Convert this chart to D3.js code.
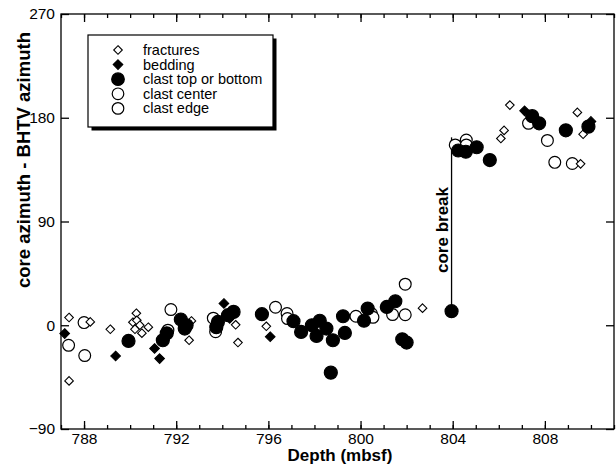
<!DOCTYPE html>
<html lang="en">
<head>
<meta charset="utf-8">
<title>core azimuth - BHTV azimuth</title>
<script src="https://cdn.jsdelivr.net/npm/d3@7"></script>
<style>
body { margin: 0; background: #fff; }
text { font-family: "Liberation Sans", Arial, Helvetica, sans-serif; fill: #000; }
.axis path { display: none; }
.axis line { stroke: #000; stroke-width: 1.3px; }
.axis text { font-size: 15.5px; }
.lbl { font-size: 17px; font-weight: bold; }
</style>
</head>
<body>
<script>
// depth (mbsf), core azimuth - BHTV azimuth (deg)
var fractures = [
  [787.35, 6.7], [788.27, 2.9], [787.35, -48.3], [789.14, -3.5],
  [790.27, 10.4], [790.12, 2.6], [790.29, 4.3], [790.42, 0], [790.21, -3.5],
  [790.51, -6.9], [790.79, -1.7], [792.66, 3.7], [792.56, -13],
  [794.58, 0.4], [794.68, -15], [795.91, -0.9], [802.69, 14.8],
  [806.23, 169], [806.09, 162], [806.48, 191], [809.55, 140],
  [809.41, 184.6], [809.66, 165.7]
];
var bedding = [
  [787.16, -7.2], [789.37, -26.7], [791.06, -20.2], [791.28, -28.9],
  [794.07, 18.9], [794.32, 6], [796.08, -10], [807.12, 186], [810.0, 176.8]
];
var clastTopBottom = [
  [789.93, -13.6], [791.42, -13], [791.59, -7], [792.2, 5], [792.37, -2.9],
  [792.45, 0], [793.81, 2.9], [793.74, -1.7], [794.25, 8.7], [794.49, 11.6],
  [795.72, 9.6], [797.09, 3.5], [797.42, -5.8], [797.89, 0], [798.23, 3.9],
  [798.52, -2.9], [798.09, -9.3], [798.8, -13], [798.71, -41.1],
  [799.24, 7.8], [799.32, -6.7], [800.31, 14.5], [800.15, 3.9],
  [801.14, 15.9], [801.51, 20.8], [801.81, -12.2], [802.0, -15],
  [803.95, 12.2], [804.24, 151.6], [804.57, 150.5], [805.04, 154.4],
  [805.61, 143.3], [807.45, 181.4], [807.75, 175.2], [808.91, 169.1],
  [809.89, 172.3]
];
var clastCenter = [
  [787.33, -17.4], [788.0, 2.3], [791.77, 13.6], [793.61, 6.1],
  [796.31, 15.6], [796.81, 10.2], [799.8, 7.8], [800.47, 10.2],
  [801.39, 9.3], [801.94, 35.6], [804.11, 156.4], [807.29, 175.2],
  [808.43, 141.3]
];
var clastEdge = [
  [788.03, -26.3], [791.64, -4.3], [793.71, -5.6], [796.83, 5.8],
  [800.54, 6.9], [801.94, 9.1], [804.59, 160.7], [804.59, 156.4],
  [808.11, 160.3], [809.19, 140.3]
];
var coreBreak = [[803.95, 12.2], [803.95, 163]];

var xMajor = [788, 792, 796, 800, 804, 808];
var xMinor = d3.range(787, 812);
var yTicks = [-90, 0, 90, 180, 270];
var legendNames = ["fractures", "bedding", "clast top or bottom", "clast center", "clast edge"];

var w = 616, h = 467;
var pL = 61, pR = 614, pT = 14, pB = 429;

var svg = d3.select("body").append("svg")
  .attr("width", w)
  .attr("height", h);

var x = d3.scaleLinear().domain([787, 811]).range([pL, pR]);
var y = d3.scaleLinear().domain([-90, 270]).range([pB, pT]);

// frame
svg.append("rect")
  .attr("x", pL).attr("y", pT)
  .attr("width", pR - pL).attr("height", pB - pT)
  .attr("fill", "none").attr("stroke", "#000").attr("stroke-width", 1.3);

// x axes, ticks inward
svg.append("g").attr("class", "axis")
  .attr("transform", "translate(0," + pB + ")")
  .call(d3.axisBottom(x).tickValues(xMinor).tickSize(-4).tickFormat(""));
svg.append("g").attr("class", "axis")
  .attr("transform", "translate(0," + pB + ")")
  .call(d3.axisBottom(x).tickValues(xMajor).tickSize(-8).tickPadding(4).tickFormat(d3.format("d")));
svg.append("g").attr("class", "axis")
  .attr("transform", "translate(0," + pT + ")")
  .call(d3.axisTop(x).tickValues(xMinor).tickSize(-4).tickFormat(""));
svg.append("g").attr("class", "axis")
  .attr("transform", "translate(0," + pT + ")")
  .call(d3.axisTop(x).tickValues(xMajor).tickSize(-8).tickFormat(""));

// y axes
svg.append("g").attr("class", "axis")
  .attr("transform", "translate(" + pL + ",0)")
  .call(d3.axisLeft(y).tickValues(yTicks).tickSize(-8).tickPadding(6).tickFormat(d3.format("d")));
svg.append("g").attr("class", "axis")
  .attr("transform", "translate(" + pR + ",0)")
  .call(d3.axisRight(y).tickValues(yTicks).tickSize(-8).tickFormat(""));

// axis titles
svg.append("text").attr("class", "lbl")
  .attr("x", 340).attr("y", 461)
  .attr("text-anchor", "middle")
  .text("Depth (mbsf)");
svg.append("text").attr("class", "lbl")
  .attr("transform", "translate(29.5,160) rotate(-90)")
  .attr("text-anchor", "middle")
  .style("font-size", "18.5px")
  .text("core azimuth - BHTV azimuth");

// core break
svg.append("path")
  .attr("d", d3.line().x(function(d){ return x(d[0]); }).y(function(d){ return y(d[1]); })(coreBreak))
  .attr("stroke", "#000").attr("stroke-width", 1.3).attr("fill", "none");
svg.append("text").attr("class", "lbl")
  .attr("transform", "translate(" + (x(coreBreak[0][0]) - 4) + ",230) rotate(-90)")
  .attr("text-anchor", "middle")
  .text("core break");

// markers
var diamond = function(r) { return "M0," + (-r) + "L" + r + ",0L0," + r + "L" + (-r) + ",0Z"; };

function drawSeries(data, kind) {
  var g = svg.append("g");
  if (kind == "od" || kind == "fd") {
    g.selectAll("path").data(data).enter().append("path")
      .attr("transform", function(d){ return "translate(" + x(d[0]) + "," + y(d[1]) + ")"; })
      .attr("d", kind == "od" ? diamond(4.3) : diamond(4.8))
      .attr("fill", kind == "od" ? "#fff" : "#000")
      .attr("stroke", "#000").attr("stroke-width", 1.1);
  } else {
    g.selectAll("circle").data(data).enter().append("circle")
      .attr("cx", function(d){ return x(d[0]); })
      .attr("cy", function(d){ return y(d[1]); })
      .attr("r", kind == "fc" ? 6.5 : 5.9)
      .attr("fill", kind == "fc" ? "#000" : "#fff")
      .attr("stroke", "#000").attr("stroke-width", 1.2);
  }
}
drawSeries(clastCenter, "oc");
drawSeries(clastEdge, "oc");
drawSeries(fractures, "od");
drawSeries(bedding, "fd");
drawSeries(clastTopBottom, "fc");

// legend
var lx = 88, ly = 35, lw = 185, lh = 92;
svg.append("rect").attr("x", lx + 3.5).attr("y", ly + 3.5).attr("width", lw).attr("height", lh).attr("fill", "#000");
svg.append("rect").attr("x", lx).attr("y", ly).attr("width", lw).attr("height", lh)
  .attr("fill", "#fff").attr("stroke", "#000").attr("stroke-width", 1.2);
var kinds = ["od", "fd", "fc", "oc", "oc"];
legendNames.forEach(function(name, i) {
  var cy = 50 + i * 14.6;
  var sx = 118;
  if (kinds[i] == "od" || kinds[i] == "fd") {
    svg.append("path").attr("transform", "translate(" + sx + "," + cy + ")")
      .attr("d", diamond(kinds[i] == "od" ? 4.3 : 4.8))
      .attr("fill", kinds[i] == "od" ? "#fff" : "#000")
      .attr("stroke", "#000").attr("stroke-width", 1.1);
  } else {
    svg.append("circle").attr("cx", sx).attr("cy", cy)
      .attr("r", kinds[i] == "fc" ? 6.3 : 5.8)
      .attr("fill", kinds[i] == "fc" ? "#000" : "#fff")
      .attr("stroke", "#000").attr("stroke-width", 1.2);
  }
  svg.append("text").attr("x", 143).attr("y", cy + 5)
    .style("font-size", "14.5px")
    .text(name);
});
</script>
</body>
</html>
